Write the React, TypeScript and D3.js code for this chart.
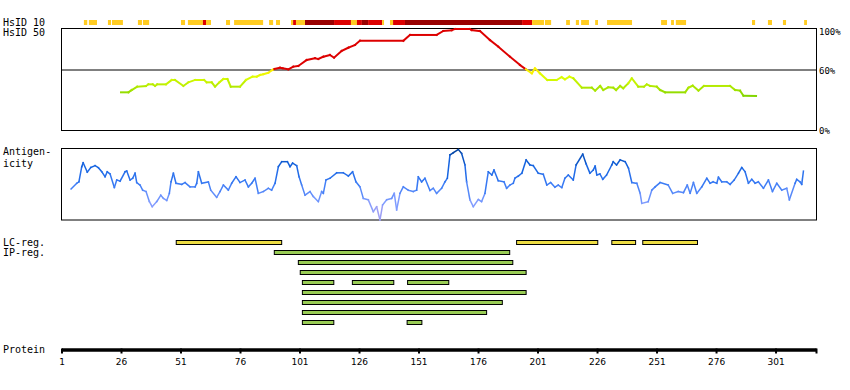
import React from "react";
import * as d3 from "d3";

const W = 850;
const H = 390;
const PROTEIN_LENGTH = 318;
const tickValues = [1, 26, 51, 76, 101, 126, 151, 176, 201, 226, 251, 276, 301];

// HsID 10 identity bar: start residue, end residue, level (l = low, m = mid, h = high)
const hsid10Start = [10.2, 12.3, 20.3, 22, 32.9, 35, 51, 53.9, 60.2, 61.5, 69.9, 73.3, 88, 90.9, 97.2, 98.1, 99.3, 103.1, 115.3, 122.4, 124.9, 127, 129.6, 135.5, 138.8, 140.1, 145.1, 194.3, 198.5, 203.9, 212.8, 216.9, 219.1, 225, 230, 252.7, 256.9, 258.9, 290.9, 297.6, 303.9, 312.8];
const hsid10End = [11.6, 15.7, 21.6, 26.6, 34.6, 37.6, 52.7, 60.2, 61.5, 63.6, 71.6, 85.5, 89.7, 92.6, 98.1, 99.3, 103.1, 115.3, 122.4, 124.9, 127, 129.6, 135.5, 136.3, 140.1, 145.1, 194.3, 198.5, 203.5, 206.5, 214.4, 218.2, 222.4, 226.2, 240.5, 255.2, 258.1, 263.2, 292.2, 299.3, 305.2, 314];
const hsid10Level = ["l", "l", "l", "l", "l", "l", "l", "l", "m", "l", "l", "l", "l", "l", "l", "m", "l", "h", "m", "l", "m", "h", "m", "l", "l", "m", "h", "m", "l", "l", "l", "l", "l", "l", "l", "l", "l", "l", "l", "l", "l", "l"];

// HsID 50 identity curve (percent)
const identityResidue = [25.8, 28.9, 30.3, 32.6, 36.3, 37.3, 39.1, 40.1, 41, 44.7, 47.1, 48.5, 52, 54.1, 56.9, 60.7, 61.8, 63.9, 65.3, 67.1, 68.8, 70.5, 71.9, 75.8, 78.3, 81.1, 82.8, 84.2, 85.6, 87.7, 89.4, 90.2, 92.6, 93.7, 96.1, 98.2, 100.3, 103.8, 107.3, 108.7, 110.8, 113.6, 115.3, 118.5, 121.3, 124.1, 126.2, 144.4, 147.2, 158.4, 161.2, 164.7, 166.1, 172.4, 173.1, 176.6, 180.8, 184.3, 189.2, 193.4, 195.9, 198.4, 199.7, 201.8, 204.9, 208.8, 210.9, 212.3, 214.2, 215.8, 219.4, 223.6, 225, 227.1, 228.4, 230.5, 232.6, 233.8, 235.5, 236.8, 238.9, 240.4, 243.1, 245.5, 246.7, 248.1, 250.9, 252.3, 254.4, 262.8, 264.2, 266, 268.4, 270.7, 281.7, 283.8, 285.9, 287.3, 292.6];
const identityValue = [37.3, 37.3, 39.6, 42.9, 43.6, 45.2, 45.2, 43.6, 45.2, 45.2, 49.5, 49.5, 43.6, 47.2, 49.5, 49.5, 47.2, 47.2, 42.9, 47.2, 50.5, 50.5, 42.9, 42.9, 49.5, 52.8, 52.8, 54.5, 55.2, 56.7, 59.4, 60.4, 61.7, 61.1, 60.1, 62.7, 63.4, 69.3, 71, 70.3, 72.6, 74.3, 71.6, 78.2, 81.5, 84.2, 88.4, 88.4, 94.1, 94.1, 98, 98.7, 100, 100, 99, 98, 89.1, 82.5, 72.6, 64.4, 60.1, 56.1, 61.1, 56.1, 49.5, 49.5, 52.3, 50.2, 52.8, 51.2, 41.9, 41.9, 38.9, 43.6, 39.6, 42.3, 41.9, 39.6, 43.6, 41.3, 46.2, 51.2, 42.9, 42.9, 45.2, 43.6, 42.9, 39.6, 37.3, 37.3, 41.9, 43.9, 38.9, 43.6, 43.6, 39.6, 38.9, 34, 33.7];
const highIdentityRange = [90.2, 195.9];

// Antigenicity profile
const antigenResidue = [4.8, 7.2, 8.1, 9.3, 9.9, 11.6, 13.1, 14.9, 16.3, 17.7, 19.1, 20, 21.2, 23, 24, 25.4, 27.5, 28.2, 29.6, 30.7, 31.7, 32.4, 33.8, 34.9, 36.3, 37.7, 38.9, 40.8, 42.5, 43.6, 45, 46.1, 46.8, 47.8, 48.9, 51.3, 52.7, 54.8, 56.9, 57.6, 58.3, 59.7, 62.5, 63.5, 66, 67.4, 68.8, 70.9, 72.3, 74.1, 75.8, 77.9, 79.3, 80.7, 82.1, 83.5, 85.6, 87.7, 89.1, 90.5, 91.9, 93.3, 95.7, 96.8, 97.9, 99.6, 100.6, 101.7, 103.1, 105.2, 106.6, 108.7, 110.1, 110.8, 111.9, 113.6, 116.4, 119.2, 121.3, 123.1, 124.5, 126.2, 127.6, 129.7, 131.8, 133.2, 134.6, 135.7, 137.4, 139.5, 140.6, 141.6, 143, 144.4, 146.5, 148.6, 150, 150.7, 152.1, 153.5, 155.6, 157, 158.4, 160.5, 161.9, 162.9, 164, 165.4, 167.5, 168.9, 170.3, 171, 172.4, 173.8, 175.9, 177.3, 178.7, 180.1, 181.6, 182.5, 184.3, 186.7, 187.8, 189.2, 190.6, 191.3, 192.7, 194.2, 196, 197.6, 199, 201.1, 203.2, 204.7, 206.3, 208.1, 209.5, 211, 212.3, 213.7, 215.8, 217, 219.8, 221.2, 222.8, 224.2, 225, 225.7, 227, 228.2, 229.8, 232, 232.6, 234, 235.5, 237.6, 239, 240.4, 242.5, 243.9, 244.6, 247.3, 248.8, 250.2, 252.3, 255.7, 257.6, 259.9, 262.1, 263.7, 264.9, 266.3, 267.7, 269.8, 271.9, 273.3, 274.6, 276.1, 276.8, 278.2, 280.3, 281.7, 283.4, 285.2, 286.6, 288, 289.4, 290.8, 292.2, 293.6, 295.7, 297.8, 299.5, 301.3, 303.4, 305.5, 306.6, 309, 309.7, 311.1, 311.8, 312.5];
const antigenValue = [-0.14, 0.02, 0.06, 0.48, 0.59, 0.33, 0.46, 0.51, 0.45, 0.34, 0.2, 0.34, 0.28, -0.1, 0.11, 0.08, 0.34, 0.36, 0.11, 0.16, 0.3, 0.04, -0.03, -0.17, -0.21, -0.49, -0.63, -0.49, -0.31, -0.4, -0.46, -0.26, 0.06, 0.3, 0.02, -0.01, 0.04, -0.08, -0.08, 0.02, 0.34, 0.02, 0.06, -0.17, -0.37, -0.21, -0.03, -0.17, 0.02, 0.2, 0.04, 0.11, -0.08, 0.02, 0.16, -0.26, -0.21, -0.12, -0.17, 0.02, 0.48, 0.62, 0.62, 0.48, 0.58, 0.51, 0.2, -0.03, -0.31, -0.21, -0.35, -0.49, -0.21, -0.26, 0.11, 0.16, 0.31, 0.31, 0.22, 0.34, 0.06, -0.08, -0.4, -0.44, -0.77, -0.63, -1.0, -0.58, -0.44, -0.4, -0.26, -0.72, -0.26, -0.08, -0.17, -0.21, -0.17, 0.2, 0.06, 0.16, -0.18, -0.12, -0.26, -0.12, 0.06, 0.16, 0.81, 0.87, 0.96, 0.85, 0.53, 0.06, -0.44, -0.63, -0.43, -0.49, -0.26, 0.34, 0.25, 0.39, 0.09, 0.06, -0.12, -0.03, 0.02, 0.16, 0.22, 0.3, 0.67, 0.53, 0.51, 0.3, 0.27, -0.03, 0.04, -0.09, -0.03, -0.1, 0.16, 0.25, 0.11, 0.53, 0.83, 0.56, 0.3, 0.39, 0.5, 0.25, 0.28, 0.13, 0.25, 0.53, 0.62, 0.53, 0.67, 0.62, 0.44, 0.04, 0.02, -0.26, -0.54, -0.49, -0.17, -0.08, 0.04, -0.03, -0.26, -0.21, -0.24, -0.03, -0.26, 0.04, -0.26, -0.08, 0.16, 0.02, 0.06, 0.02, 0.19, 0.06, 0.06, -0.01, 0.11, 0.3, 0.46, 0.34, 0.02, 0.13, 0.02, 0.06, -0.12, 0.11, -0.21, 0.02, -0.17, -0.12, -0.44, 0.02, 0.13, 0.06, -0.01, 0.36];

// Regions
const lcStart = [49, 192, 232, 245];
const lcEnd = [93.3, 226.1, 242, 268];
const ipRows: [number, number][][] = [
  [[90.2, 189.1]],
  [[100.3, 190.4]],
  [[101.1, 196]],
  [[102, 115.2], [123, 140.4], [146.2, 163.5]],
  [[102, 196]],
  [[102, 186]],
  [[102, 179.4]],
  [[102, 115.2], [146, 152.2]],
];

const MONO = "'DejaVu Sans Mono', monospace";
const SANS = "'DejaVu Sans', sans-serif";

export default function App() {
  const x = d3.scaleLinear().domain([1, PROTEIN_LENGTH]).range([62, 816.5]);
  const yId = d3.scaleLinear().domain([0, 100]).range([130, 29]);
  const yAg = d3.scaleLinear().domain([-1, 1]).range([220, 148]);

  const levelColor: Record<string, string> = { l: "#ffcc22", m: "#dd0000", h: "#990000" };
  const idColor = d3
    .scaleLinear<string>()
    .domain([33, 45, 52, 60])
    .range(["#7fd400", "#bbee00", "#ddff00", "#ffee00"])
    .clamp(true);
  const agColor = d3
    .scaleLinear<string>()
    .domain([-1, -0.5, 0, 0.5, 1])
    .range(["#b0a0ee", "#7f9cff", "#3a7bf5", "#1463e0", "#003f99"])
    .clamp(true);

  const seg = d3.line<[number, number]>();

  const idSegs = identityResidue.slice(1).map((r, i) => {
    const r0 = identityResidue[i];
    const v0 = identityValue[i];
    const v1 = identityValue[i + 1];
    const mid = (r0 + r) / 2;
    const red = mid >= highIdentityRange[0] && mid <= highIdentityRange[1];
    const col = red ? "#dd0000" : idColor((v0 + v1) / 2);
    return {
      d: seg([
        [x(r0), yId(v0)],
        [x(r), yId(v1)],
      ]) as string,
      col,
    };
  });

  const agSegs = antigenResidue.slice(1).map((r, i) => {
    const r0 = antigenResidue[i];
    const v0 = antigenValue[i];
    const v1 = antigenValue[i + 1];
    return {
      d: seg([
        [x(r0), yAg(v0)],
        [x(r), yAg(v1)],
      ]) as string,
      col: agColor((v0 + v1) / 2),
    };
  });

  const boxL = 61.5;
  const boxR = 816.5;

  return (
    <svg
      width={W}
      height={H}
      style={{ position: "absolute", left: 0, top: 0, background: "#fff" }}
    >
      <rect x={0} y={0} width={W} height={H} fill="#fff" />
      {/* left labels */}
      <g fontFamily={MONO} fontSize={10} fill="#000">
        <text x={3} y={26}>HsID 10</text>
        <text x={3} y={36}>HsID 50</text>
        <text x={3} y={155}>Antigen-</text>
        <text x={3} y={167}>icity</text>
        <text x={3} y={246}>LC-reg.</text>
        <text x={3} y={256}>IP-reg.</text>
        <text x={3} y={353}>Protein</text>
      </g>

      {/* HsID 10 bar */}
      {hsid10Start.map((s, i) => (
        <rect
          key={"h" + i}
          x={x(s)}
          y={20}
          width={Math.max(1, x(hsid10End[i]) - x(s))}
          height={5}
          fill={levelColor[hsid10Level[i]]}
        />
      ))}

      {/* identity box */}
      <rect x={boxL} y={28.5} width={boxR - boxL} height={102} fill="none" stroke="#000" strokeWidth={1} />
      <line x1={boxL} x2={boxR} y1={70} y2={70} stroke="#000" strokeWidth={1} />
      <g>
        {idSegs.map((s, i) => (
          <path key={"i" + i} d={s.d} stroke={s.col} strokeWidth={2} fill="none" strokeLinecap="square" />
        ))}
      </g>
      <g fontFamily={MONO} fontSize={9} fill="#000">
        <text x={819} y={35}>100%</text>
        <text x={819} y={73.5}>60%</text>
        <text x={819} y={133.5}>0%</text>
      </g>

      {/* antigenicity box */}
      <rect x={boxL} y={148.5} width={boxR - boxL} height={71.5} fill="none" stroke="#000" strokeWidth={1} />
      <g>
        {agSegs.map((s, i) => (
          <path key={"a" + i} d={s.d} stroke={s.col} strokeWidth={1.5} fill="none" strokeLinecap="square" />
        ))}
      </g>

      {/* LC regions */}
      {lcStart.map((s, i) => (
        <rect
          key={"lc" + i}
          x={x(s)}
          y={240.5}
          width={x(lcEnd[i]) - x(s)}
          height={4}
          fill="#eedd44"
          stroke="#000"
          strokeWidth={1}
        />
      ))}
      {/* IP regions */}
      {ipRows.map((row, ri) =>
        row.map(([s, e], j) => (
          <rect
            key={"ip" + ri + "-" + j}
            x={x(s)}
            y={250.5 + ri * 10}
            width={x(e) - x(s)}
            height={4}
            fill="#99cc55"
            stroke="#000"
            strokeWidth={1}
          />
        ))
      )}

      {/* protein axis */}
      <line x1={x(1)} x2={x(PROTEIN_LENGTH)} y1={350} y2={350} stroke="#000" strokeWidth={3.5} />
      {[...tickValues, PROTEIN_LENGTH].map((t) => (
        <line key={"t" + t} x1={x(t)} x2={x(t)} y1={348.5} y2={353.5} stroke="#000" strokeWidth={2} />
      ))}
      <g fontFamily={SANS} fontSize={9} fill="#000" textAnchor="middle">
        {tickValues.map((t) => (
          <text key={"l" + t} x={x(t)} y={364.5}>
            {t}
          </text>
        ))}
      </g>
    </svg>
  );
}
